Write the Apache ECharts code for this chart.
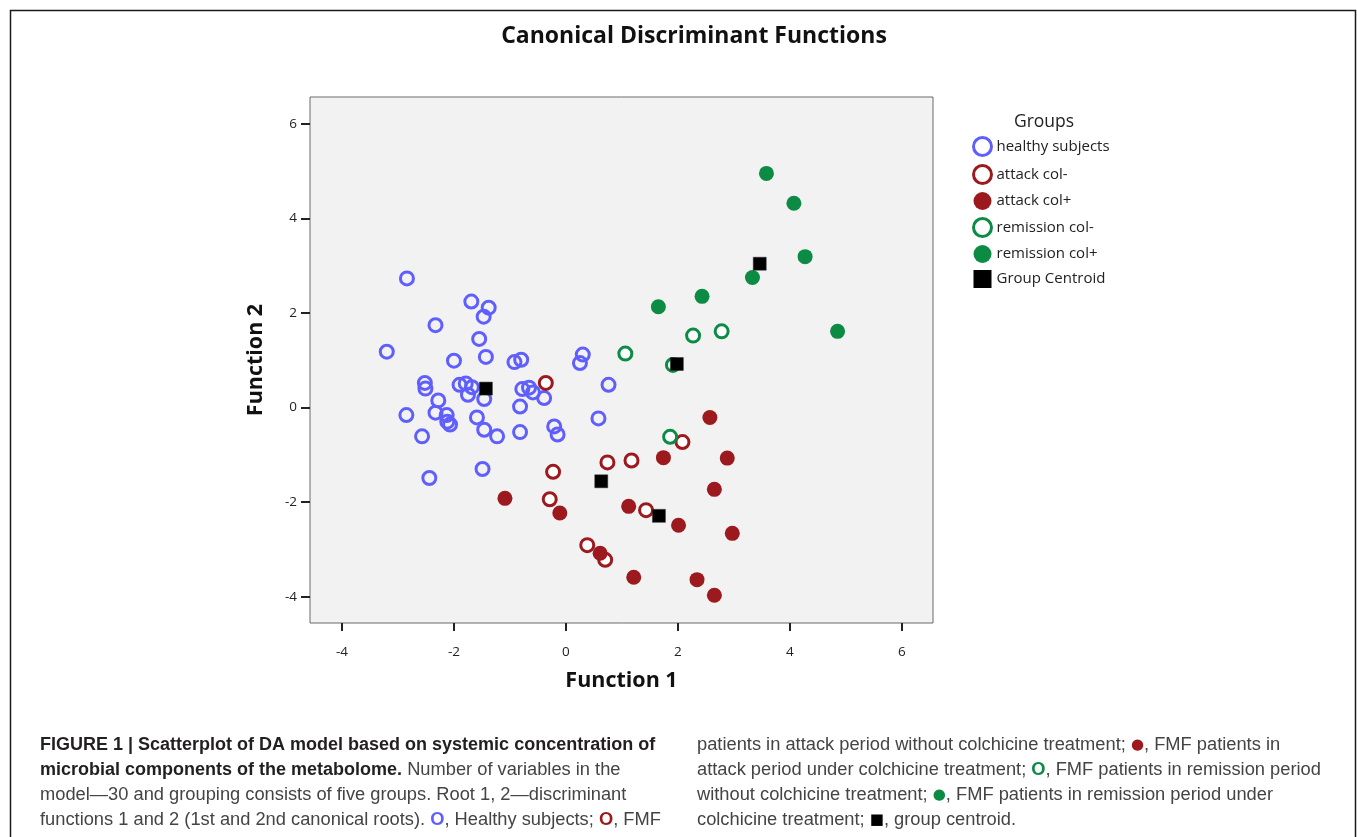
<!DOCTYPE html>
<html><head><meta charset="utf-8">
<script src="https://cdn.jsdelivr.net/npm/echarts@6/dist/echarts.min.js"></script>
<style>html,body{margin:0;padding:0;background:#fff}#c{width:1357px;height:837px}</style>
</head><body><div id="c"></div>
<script>
// ---- data (Function 1, Function 2) ----
const healthySubjects = [
  [-2.84,2.73],[-1.69,2.24],[-1.38,2.11],[-1.47,1.92],[-2.33,1.74],[-1.55,1.45],
  [-3.20,1.18],[-2.00,0.99],[-1.43,1.07],[-0.92,0.96],[-0.80,1.01],[0.30,1.12],
  [0.25,0.94],[-2.52,0.52],[-2.51,0.40],[-1.90,0.48],[-1.79,0.51],[-1.68,0.43],
  [-1.75,0.27],[-1.46,0.18],[-0.78,0.39],[-0.66,0.42],[-0.59,0.32],[-0.39,0.20],
  [0.76,0.48],[-2.28,0.15],[-2.85,-0.16],[-2.33,-0.11],[-2.13,-0.16],[-2.12,-0.30],
  [-2.07,-0.36],[-1.59,-0.21],[-0.82,0.02],[-1.46,-0.47],[-1.23,-0.61],[-2.57,-0.61],
  [-0.82,-0.52],[-0.21,-0.40],[-0.15,-0.57],[0.58,-0.23],[-1.49,-1.30],[-2.44,-1.49]
];
const attackColMinus = [
  [-0.36,0.52],[0.74,-1.16],[1.17,-1.12],[2.08,-0.73],[-0.23,-1.36],[-0.29,-1.94],
  [1.43,-2.17],[0.38,-2.91],[0.70,-3.22]
];
const attackColPlus = [
  [2.57,-0.21],[1.74,-1.06],[2.88,-1.07],[2.65,-1.73],[-1.09,-1.92],[-0.11,-2.23],
  [1.12,-2.09],[2.01,-2.49],[2.97,-2.66],[0.61,-3.08],[1.21,-3.59],[2.34,-3.64],[2.65,-3.97]
];
const remissionColMinus = [
  [1.06,1.14],[1.91,0.90],[2.27,1.52],[2.78,1.61],[1.86,-0.62]
];
const remissionColPlus = [
  [3.58,4.95],[4.07,4.32],[4.27,3.19],[3.33,2.75],[2.43,2.35],[1.65,2.13],[4.85,1.61]
];
const groupCentroids = [
  [-1.43,0.40],[0.63,-1.56],[1.66,-2.29],[1.98,0.92],[3.46,3.04]
];
const groupNames = ['healthy subjects','attack col-','attack col+','remission col-','remission col+','Group Centroid'];
const xTicks = [-4,-2,0,2,4,6];
const yTicks = [-4,-2,0,2,4,6];

const BLUE='#5f5fff', RED='#9c1a1e', GREEN='#0c8b44';
const open = (c, fill) => ({color: fill, borderColor: c, borderWidth: 3, opacity: 1});
const filled = c => ({color: c, borderWidth: 0, opacity: 1});

const chart = echarts.init(document.getElementById('c'), null, {renderer:'canvas'});
const baseSeries = {type:'scatter', symbol:'circle', emphasis:{disabled:true}, animation:false};
const capFont = '"Liberation Sans", Arial, sans-serif';
const CS = 18.3;
const capRich = {
  b:{fontFamily:capFont,fontSize:18,fontWeight:'bold',fill:'#231f20'},
  n:{fontFamily:capFont,fontSize:CS,fill:'#444'},
  bo:{fontFamily:capFont,fontSize:CS,fontWeight:'bold',fill:BLUE},
  ro:{fontFamily:capFont,fontSize:CS,fontWeight:'bold',fill:RED},
  rf:{fontFamily:'DejaVu Sans',fontSize:15,fill:RED},
  go:{fontFamily:capFont,fontSize:CS,fontWeight:'bold',fill:GREEN},
  gf:{fontFamily:'DejaVu Sans',fontSize:15,fill:GREEN},
  sq:{fontFamily:'DejaVu Sans',fontSize:15,fill:'#000'}
};
const capLines = [
  [40,745,'{b|FIGURE 1 | Scatterplot of DA model based on systemic concentration of}'],
  [40,770,'{b|microbial components of the metabolome.}{n| Number of variables in the}'],
  [40,795,'{n|model\u201430 and grouping consists of five groups. Root 1, 2\u2014discriminant}'],
  [40,820,'{n|functions 1 and 2 (1st and 2nd canonical roots). }{bo|O}{n|, Healthy subjects; }{ro|O}{n|, FMF}'],
  [697,745,'{n|patients in attack period without colchicine treatment; }{rf|\u25CF}{n|, FMF patients in}'],
  [697,770,'{n|attack period under colchicine treatment; }{go|O}{n|, FMF patients in remission period}'],
  [697,795,'{n|without colchicine treatment; }{gf|\u25CF}{n|, FMF patients in remission period under}'],
  [697,820,'{n|colchicine treatment; }{sq|\u25A0}{n|, group centroid.}']
];

const option = {
  animation:false,
  backgroundColor:'#fff',
  title:{text:'Canonical Discriminant Functions', left:689, top:20, textAlign:'center',
    textStyle:{fontFamily:'"Open Sans", sans-serif', fontSize:23, fontWeight:'bold', color:'#111'}},
  grid:{left:310, right:424, top:97, bottom:214, show:true, backgroundColor:'#f2f2f2', borderColor:'#6a6a6a', borderWidth:1},
  legend:{
    orient:'vertical', left:972, top:136, padding:0, itemWidth:18, itemHeight:18, itemGap:7,
    textStyle:{fontFamily:'"Open Sans", sans-serif', fontSize:15, color:'#222', lineHeight:18},
    selectedMode:false,
    data:[
      {name:groupNames[0], icon:'circle', itemStyle:open(BLUE,'#fff')},
      {name:groupNames[1], icon:'circle', itemStyle:open(RED,'#fff')},
      {name:groupNames[2], icon:'circle', itemStyle:filled(RED)},
      {name:groupNames[3], icon:'circle', itemStyle:open(GREEN,'#fff')},
      {name:groupNames[4], icon:'circle', itemStyle:filled(GREEN)},
      {name:groupNames[5], icon:'path://M2,2L16,2L16,16L2,16Z', itemStyle:{color:'#000', borderWidth:0, opacity:1}}
    ]
  },
  xAxis:{type:'value', min:-4.571, max:6.554, name:'Function 1', nameLocation:'middle', nameGap:47,
    nameTextStyle:{fontFamily:'"Open Sans", sans-serif', fontSize:21.5, fontWeight:'bold', color:'#111'},
    axisLine:{show:false, onZero:false}, splitLine:{show:false},
    axisTick:{show:true, customValues:xTicks, length:8, lineStyle:{color:'#222', width:2}},
    axisLabel:{customValues:xTicks, fontFamily:'"Open Sans", sans-serif', fontSize:13.5, color:'#222', margin:22}
  },
  yAxis:{type:'value', min:-4.556, max:6.565, name:'Function 2', nameLocation:'middle', nameGap:43,
    nameTextStyle:{fontFamily:'"Open Sans", sans-serif', fontSize:21.5, fontWeight:'bold', color:'#111'},
    axisLine:{show:false, onZero:false}, splitLine:{show:false},
    axisTick:{show:true, customValues:yTicks, length:9, lineStyle:{color:'#222', width:2}},
    axisLabel:{customValues:yTicks, fontFamily:'"Open Sans", sans-serif', fontSize:13.5, color:'#222', margin:13}
  },
  series:[
    Object.assign({}, baseSeries, {name:groupNames[0], data:healthySubjects, symbolSize:13, itemStyle:open(BLUE,'rgba(0,0,0,0)')}),
    Object.assign({}, baseSeries, {name:groupNames[1], data:attackColMinus, symbolSize:13, itemStyle:open(RED,'#fff')}),
    Object.assign({}, baseSeries, {name:groupNames[2], data:attackColPlus, symbolSize:15, itemStyle:filled(RED)}),
    Object.assign({}, baseSeries, {name:groupNames[3], data:remissionColMinus, symbolSize:13, itemStyle:open(GREEN,'#fff')}),
    Object.assign({}, baseSeries, {name:groupNames[4], data:remissionColPlus, symbolSize:15, itemStyle:filled(GREEN)}),
    Object.assign({}, baseSeries, {name:groupNames[5], data:groupCentroids, symbol:'rect', symbolSize:13, itemStyle:{color:'#000', borderColor:'#333', borderWidth:0.5, opacity:1}, z:5})
  ],
  graphic:[
    {type:'rect', left:8, top:8, shape:{width:1345, height:840}, style:{fill:'none', stroke:'#1a1a1a', lineWidth:1.5}, silent:true},
    {type:'text', x:1044, y:122, style:{text:'Groups', fontFamily:'"Open Sans", sans-serif', fontSize:17.5, fill:'#222', align:'center', verticalAlign:'middle'}, silent:true}
  ].concat(capLines.map(l => ({type:'text', x:l[0], y:l[1], silent:true,
    style:{text:l[2], rich:capRich, verticalAlign:'middle', align:'left'}})))
};
chart.setOption(option);
</script></body></html>
